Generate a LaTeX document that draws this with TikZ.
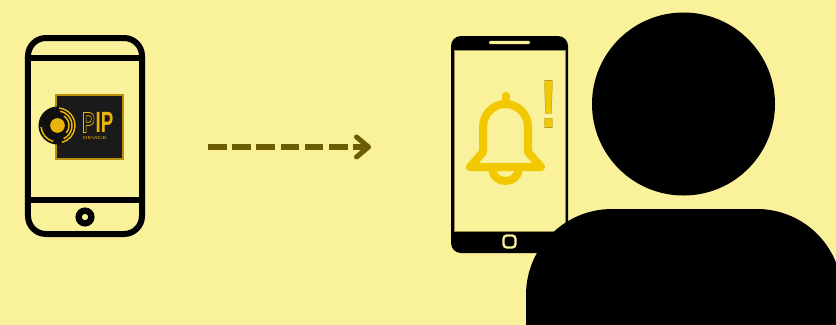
\documentclass[tikz,border=0pt]{standalone}
\usepackage{fontspec}
\setmainfont{Liberation Sans}
\usetikzlibrary{arrows.meta}
\definecolor{paper}{HTML}{FAF29A}
\definecolor{gold}{HTML}{F2C800}
\definecolor{logogold}{HTML}{E8B40C}
\definecolor{logodark}{HTML}{1A1A1A}
\definecolor{olive}{HTML}{6B5D00}
\begin{document}
\begin{tikzpicture}[
		x=0.03cm, y=-0.03cm,
		phoneo/.style = {rectangle, draw=black, line width=0.18cm, rounded corners=0.54cm, minimum width=3.42cm, minimum height=5.88cm, inner sep=0, outer sep=0},
		phonef/.style = {rectangle, fill=black, rounded corners=0.3cm, minimum width=3.51cm, minimum height=6.51cm, inner sep=0, outer sep=0},
		screen/.style = {rectangle, fill=paper, draw=olive!70, line width=0.02cm, minimum width=3.33cm, minimum height=5.43cm, inner sep=0, outer sep=0},
		bar/.style = {draw=black, line width=0.18cm},
		bell/.style = {draw=gold, line width=0.24cm, line cap=round, line join=round},
		ring/.style = {draw=logogold, line width=0.045cm},
		r/.style = {draw=olive, line width=0.18cm, dash pattern=on 0.555cm off 0.171cm, -{Straight Barb[length=0.36cm, width=0.6cm, round, line width=0.15cm]}}
		]
		
		%Background
		\useasboundingbox (0, 0) rectangle (836, 324);
		\fill[paper] (-2, -2) rectangle (838, 326);
		
		%Left phone
		\node[phoneo]	(phone1)	at (85, 136)	{};
		\coordinate (bar1a) at (28, 58);
		\coordinate (bar1b) at (142, 58);
		\coordinate (bar2a) at (28, 200);
		\coordinate (bar2b) at (142, 200);
		\draw[bar] (bar1a) -- (bar1b);
		\draw[bar] (bar2a) -- (bar2b);
		\node[circle, draw=black, line width=0.19cm, fill=paper, minimum size=0.38cm, inner sep=0, outer sep=0] (homebtn1) at (85, 217) {};
		
		%Logo
		\node[rectangle, fill=logodark, draw=logogold!80!black, line width=0.06cm, minimum width=1.99cm, minimum height=1.91cm, inner sep=0] (logo) at (89.5, 127) {};
		\node[circle, fill=logodark!60!black, minimum size=1.14cm, inner sep=0] (disc) at (57.5, 125.5) {};
		\node[circle, fill=logogold, minimum size=0.44cm, inner sep=0] (disccore) at (disc) {};
		\draw[ring] (disc.center) ++(-85:17.5) arc[start angle=-85, end angle=75, radius=17.5];
		\draw[ring] (disc.center) ++(-80:14.5) arc[start angle=-80, end angle=65, radius=14.5];
		\draw[ring] (disc.center) ++(-55:11.5) arc[start angle=-55, end angle=40, radius=11.5];
		\draw[ring] (disc.center) ++(175:16.5) arc[start angle=175, end angle=105, radius=16.5];
		\node[font=\fontsize{25}{25}\selectfont\bfseries, text=logogold, xscale=0.64, inner sep=0] (logop) at (88.5, 122.5) {\special{pdf:code 1 Tr 0.7 w 0.91 0.71 0.05 RG}P\special{pdf:code 0 Tr}};
		\node[font=\fontsize{25}{25}\selectfont\bfseries, text=logogold, xscale=0.64, inner sep=0] (logoip) at (104.5, 122.5) {IP};
		\node[font=\fontsize{3.6}{4}\selectfont, text=logogold, xscale=1.5, inner sep=0] (logosub) at (95, 138.5) {DEVICE};
		
		%Arrow
		\coordinate (arrowa) at (208, 147);
		\coordinate (arrowb) at (371, 147);
		\draw[r] (arrowa) -- (arrowb);
		
		%Right phone
		\node[phonef]	(phone2)	at (509.5, 144.5)	{};
		\node[screen]	(screen2)	at (509.5, 140.5)	{};
		\node[rectangle, fill=paper, rounded corners=0.04cm, minimum width=1.23cm, minimum height=0.1cm, inner sep=0] (speaker) at (509.5, 42.5) {};
		\node[rectangle, draw=paper, fill=black, line width=0.07cm, rounded corners=0.1cm, minimum size=0.36cm, inner sep=0] (homebtn2) at (509.5, 241.5) {};
		
		%Bell
		\draw[bell] (505.5, 96) -- (505.5, 104);
		\draw[bell] (470, 167) -- (483, 152) -- (483, 127) arc[start angle=180, end angle=0, x radius=22.5, y radius=-23] -- (528, 152) -- (541, 167) -- cycle;
		\draw[bell] (492.5, 170) arc[start angle=180, end angle=360, x radius=13, y radius=-11];
		\node[font=\fontsize{58}{58}\selectfont\bfseries, text=gold, xscale=0.8, inner sep=0] (alert) at (548.5, 104) {\special{pdf:code 2 Tr 0.25 w 0.55 0.48 0.1 RG}!\special{pdf:code 0 Tr}};
		
		%Person
		\node[circle, fill=black, minimum size=5.49cm, inner sep=0, outer sep=0] (head) at (683.5, 104) {};
		\fill[black] (526, 326) -- (526, 295) arc[start angle=180, end angle=90, x radius=86, y radius=-86] -- (757, 209) arc[start angle=90, end angle=21.7, x radius=85, y radius=-85] -- (836, 326) -- cycle;
		
	\end{tikzpicture}
\end{document}
